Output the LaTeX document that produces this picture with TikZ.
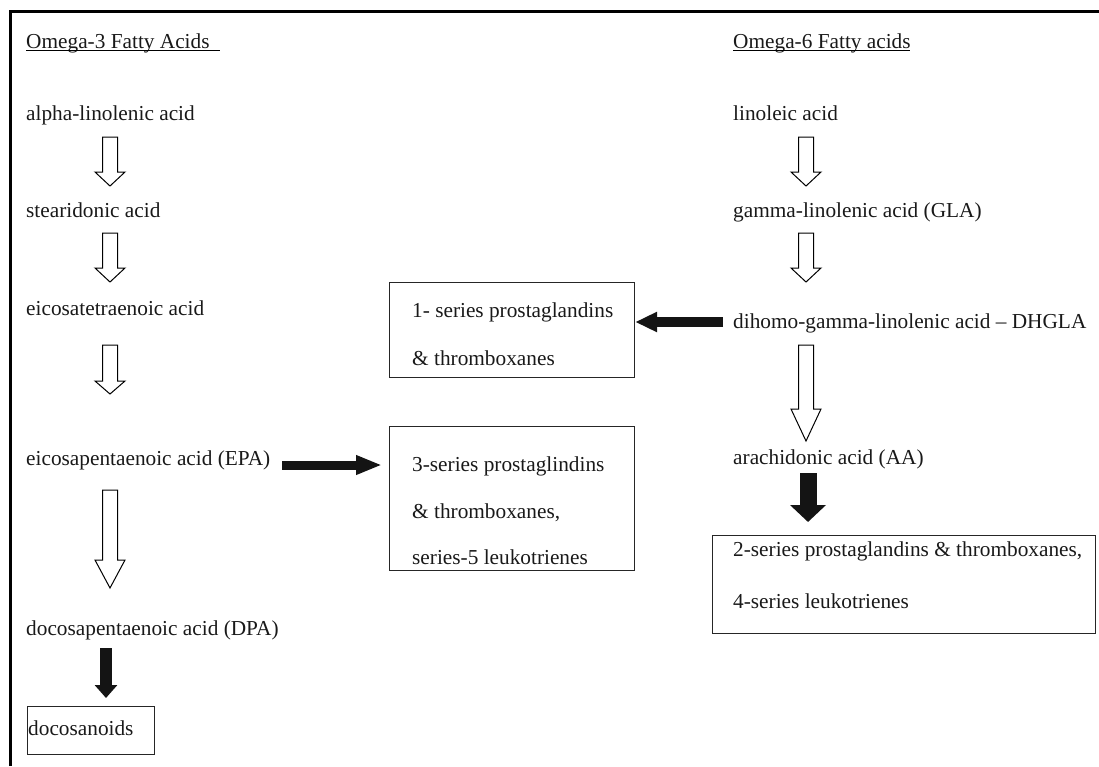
\documentclass[tikz,border=0pt]{standalone}
\usepackage{fontspec}
\setmainfont{Liberation Serif}
\usetikzlibrary{arrows.meta,calc}
\newcommand\hollowdown[3]{%
  \draw[hollow] let \p1=(#1), \p2=(#2) in
    (\x1-7.5pt,\y1) -- (\x1+7.5pt,\y1) -- (\x1+7.5pt,\y2+#3) -- (\x1+15pt,\y2+#3)
    -- (\x2,\y2) -- (\x1-15pt,\y2+#3) -- (\x1-7.5pt,\y2+#3) -- cycle;}
\begin{document}
\begin{tikzpicture}[x=1pt,y=-1pt,
  lab/.style={anchor=base west, inner sep=0pt, font=\fontsize{21.3}{25}\selectfont, text=black!90},
  box/.style={draw=black!85, line width=1.2pt, anchor=north west, inner sep=0pt},
  hollow/.style={draw=black, line width=1pt, fill=white, line join=miter},
  blackarrow/.style={draw=black!92}
]
\useasboundingbox (0,0) rectangle (1099,766);
% frame (top and left only)
\draw[line width=2.8pt] (10.5,766) -- (10.5,11.3) -- (1099,11.3);

% titles
\node[lab] (o3) at (26,48) {Omega-3 Fatty Acids};
\node[lab] (o6) at (733,48) {Omega-6 Fatty acids};
\draw[line width=1pt] ($(o3.base west)+(0,2.5)$) -- ++(194,0);
\draw[line width=1pt] ($(o6.base west)+(0,2.5)$) -- ++(177,0);

% omega-3 column
\node[lab] (ala) at (26,120) {alpha-linolenic acid};
\node[lab] (sda) at (26,217) {stearidonic acid};
\node[lab] (eta) at (26,315) {eicosatetraenoic acid};
\node[lab] (epa) at (26,465) {eicosapentaenoic acid (EPA)};
\node[lab] (dpa) at (26,635) {docosapentaenoic acid (DPA)};
\node[box, minimum width=127pt, minimum height=48pt] (doc) at (27,706) {};
\node[lab] (doct) at (28,735) {docosanoids};

% omega-6 column
\node[lab] (la) at (733,120) {linoleic acid};
\node[lab] (gla) at (733,217) {gamma-linolenic acid (GLA)};
\node[lab] (dgla) at (733,328) {dihomo-gamma-linolenic acid -- DHGLA};
\node[lab] (aa) at (733,464) {arachidonic acid (AA)};
\node[box, minimum width=383pt, minimum height=98pt] (b2) at (712,535) {};
\node[lab] (b2a) at (733,556) {2-series prostaglandins \& thromboxanes,};
\node[lab] (b2b) at (733,608) {4-series leukotrienes};

% middle boxes
\node[box, minimum width=245pt, minimum height=95pt] (b1) at (389,282) {};
\node[lab] (b1a) at (412,317) {1- series prostaglandins};
\node[lab] (b1b) at (412,365) {\& thromboxanes};
\node[box, minimum width=245pt, minimum height=144pt] (b3) at (389,426) {};
\node[lab] (b3a) at (412,471) {3-series prostaglindins};
\node[lab] (b3b) at (412,518) {\& thromboxanes,};
\node[lab] (b3c) at (412,564) {series-5 leukotrienes};

% arrow end points
\coordinate (a1s) at (110,137); \coordinate (a1e) at (110,186);
\coordinate (a2s) at (110,233); \coordinate (a2e) at (110,282);
\coordinate (a3s) at (110,345); \coordinate (a3e) at (110,394);
\coordinate (a4s) at (110,490); \coordinate (a4e) at (110,588);
\coordinate (r1s) at (806,137); \coordinate (r1e) at (806,186);
\coordinate (r2s) at (806,233); \coordinate (r2e) at (806,282);
\coordinate (r3s) at (806,345); \coordinate (r3e) at (806,441);
\coordinate (ds) at (106,648); \coordinate (de) at (106,698);
\coordinate (aas) at (808,473); \coordinate (aae) at (808,522);
\coordinate (es) at (282,465); \coordinate (ee) at (382,465);
\coordinate (hs) at (723,322); \coordinate (he) at (b1.east |- hs);

% hollow arrows
\hollowdown{a1s}{a1e}{14pt}
\hollowdown{a2s}{a2e}{14pt}
\hollowdown{a3s}{a3e}{13pt}
\hollowdown{a4s}{a4e}{28pt}
\hollowdown{r1s}{r1e}{14pt}
\hollowdown{r2s}{r2e}{14pt}
\hollowdown{r3s}{r3e}{32pt}

% solid arrows
\draw[blackarrow, line width=12pt, -{Triangle[length=13pt,width=22pt]}] (ds) -- (de);
\draw[blackarrow, line width=17pt, -{Triangle[length=17pt,width=35pt]}] (aas) -- (aae);
\draw[blackarrow, line width=9pt, -{Triangle[length=26pt,width=18pt]}] (es) -- (ee);
\draw[blackarrow, line width=10pt, -{Triangle[length=22pt,width=19pt]}] (hs) -- (he);
\end{tikzpicture}
\end{document}
